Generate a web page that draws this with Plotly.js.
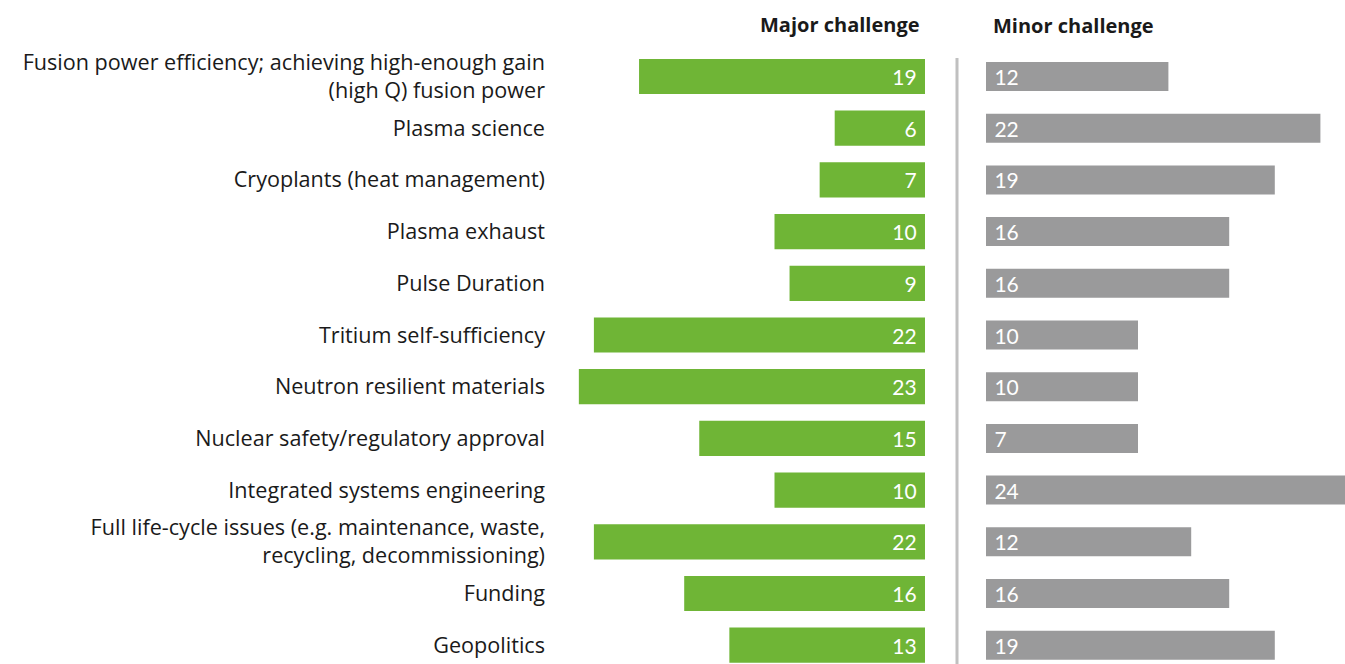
<!DOCTYPE html>
<html>
<head>
<meta charset="utf-8">
<script src="https://cdn.plot.ly/plotly-3.0.1.min.js"></script>
<style>html,body{margin:0;padding:0;background:#fff;}#chart{width:1345px;height:664px;}</style>
</head>
<body>
<div id="chart"></div>
<script>
const categories = [
  "Fusion power efficiency; achieving high-enough gain<br>(high Q) fusion power",
  "Plasma science",
  "Cryoplants (heat management)",
  "Plasma exhaust",
  "Pulse Duration",
  "Tritium self-sufficiency",
  "Neutron resilient materials",
  "Nuclear safety/regulatory approval",
  "Integrated systems engineering",
  "Full life-cycle issues (e.g. maintenance, waste,<br>recycling, decommissioning)",
  "Funding",
  "Geopolitics"
];
const majorValues = [19, 6, 7, 10, 9, 22, 23, 15, 10, 22, 16, 13];
const majorLabels = ["19", "6", "7", "10", "9", "22", "23", "15", "10", "22", "16", "13"];
// bar lengths as drawn in the picture
const minorValues = [12, 22, 19, 16, 16, 10, 10, 10, 24, 13.5, 16, 19];
const minorLabels = ["12", "22", "19", "16", "16", "10", "10", "7", "24", "12", "16", "19"];
const headerMajor = "Major challenge";
const headerMinor = "Minor challenge";

const W = 1345, H = 664;
const FONT = "'Open Sans', Lato, sans-serif";
const NUMFONT = "Lato, 'Open Sans', sans-serif";

const traces = [
  {
    type: "bar", orientation: "h",
    y: categories, x: majorValues, text: majorLabels,
    texttemplate: "%{text}\u00a0",
    xaxis: "x", yaxis: "y",
    marker: {color: "#6fb536"},
    width: 0.68,
    textposition: "inside", insidetextanchor: "start", textangle: 0,
    textfont: {color: "#ffffff", size: 21, family: NUMFONT},
    constraintext: "none",
    hoverinfo: "skip"
  },
  {
    type: "bar", orientation: "h",
    y: categories, x: minorValues, text: minorLabels,
    texttemplate: "\u00a0%{text}",
    xaxis: "x2", yaxis: "y2",
    marker: {color: "#9a9a9b"},
    width: 0.56,
    textposition: "inside", insidetextanchor: "start", textangle: 0,
    textfont: {color: "#ffffff", size: 21, family: NUMFONT},
    constraintext: "none",
    hoverinfo: "skip"
  }
];

const rowPx = 51.7, firstPx = 76.5;
const yTop = -firstPx / rowPx;
const yBot = yTop + H / rowPx;
const pxScale = 15.05;

const layout = {
  width: W, height: H,
  margin: {l: 0, r: 0, t: 0, b: 0},
  paper_bgcolor: "#ffffff", plot_bgcolor: "rgba(0,0,0,0)",
  showlegend: false,
  font: {family: FONT, color: "#1a1a1a", size: 20},
  xaxis: {
    domain: [550 / W, 925 / W],
    range: [(925 - 550) / pxScale, 0],
    visible: false, fixedrange: true
  },
  yaxis: {
    type: "category",
    range: [yBot, yTop],
    showgrid: false, zeroline: false, showline: false,
    ticks: "", ticklabelstandoff: 4,
    tickfont: {family: FONT, size: 21.6, color: "#1a1a1a"},
    anchor: "x"
  },
  xaxis2: {
    domain: [986 / W, 1],
    range: [0, (W - 986) / 15.2],
    visible: false, fixedrange: true, anchor: "y2"
  },
  yaxis2: {
    type: "category",
    range: [yBot, yTop],
    visible: false, anchor: "x2"
  },
  shapes: [{
    type: "line", xref: "paper", yref: "paper",
    x0: 957 / W, x1: 957 / W, y0: 0, y1: 1 - 58 / H,
    line: {color: "#c0c0c0", width: 3}
  }],
  annotations: [
    {text: "<b>" + headerMajor + "</b>", xref: "paper", yref: "paper",
     x: 922 / W, y: 1 - 24 / H, xanchor: "right", yanchor: "middle",
     showarrow: false, font: {family: FONT, size: 20, color: "#1a1a1a"}},
    {text: "<b>" + headerMinor + "</b>", xref: "paper", yref: "paper",
     x: 991 / W, y: 1 - 25 / H, xanchor: "left", yanchor: "middle",
     showarrow: false, font: {family: FONT, size: 20, color: "#1a1a1a"}}
  ]
};

Plotly.newPlot("chart", traces, layout, {displayModeBar: false, staticPlot: true});
</script>
</body>
</html>
